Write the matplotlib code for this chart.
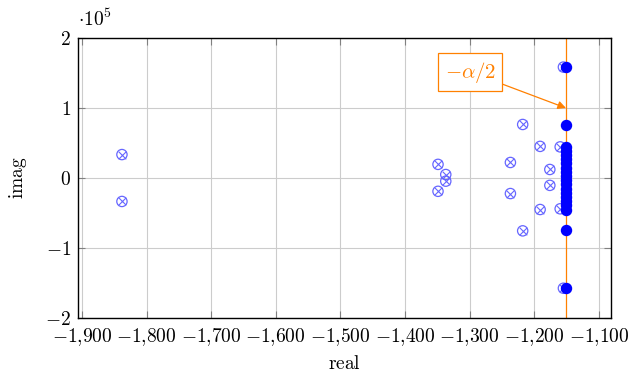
import numpy as np
import matplotlib
matplotlib.use('Agg')
import matplotlib.pyplot as plt
from matplotlib.ticker import FuncFormatter

plt.rcParams['mathtext.fontset'] = 'cm'
plt.rcParams['font.family'] = 'serif'
plt.rcParams['font.serif'] = ['DejaVu Serif']

# open poles (otimes markers), real part and imag part (units of 1e5)
open_re = [-1838, -1838, -1349, -1349, -1337, -1337, -1237, -1237,
           -1218, -1218, -1191, -1191, -1176, -1176, -1160, -1160,
           -1155, -1155]
open_im = [0.335, -0.335, 0.195, -0.19, 0.05, -0.045, 0.222, -0.222,
           0.765, -0.755, 0.452, -0.45, 0.122, -0.105, 0.445, -0.44,
           1.585, -1.575]

# filled poles on the -alpha/2 line
alpha_half = -1151
fill_im = [1.585, -1.575, 0.757, -0.745,
           0.45, 0.39, 0.33, 0.27, 0.21, 0.15, 0.09, 0.03,
           -0.03, -0.09, -0.15, -0.21, -0.27, -0.33, -0.39, -0.45]

orange = '#ff8000'
fs = 14

fig = plt.figure(figsize=(6.33, 3.73), dpi=100)
ax = fig.add_axes([0.1232, 0.1475, 0.8414, 0.7505])

ax.axvline(alpha_half, color=orange, lw=0.9, zorder=1)

ax.scatter(open_re, open_im, s=55, facecolors='none', edgecolors='#6666ff',
           linewidths=0.9, zorder=3)
ax.scatter(open_re, open_im, s=30, marker='x', color='#6666ff',
           linewidths=0.8, zorder=3)
ax.scatter([alpha_half] * len(fill_im), fill_im, s=52, color='#0000ff',
           zorder=4)

ax.annotate(r'$-\alpha/2$', xy=(alpha_half, 1.0), xytext=(-1299, 1.514),
            ha='center', va='center', color=orange, fontsize=15,
            bbox=dict(boxstyle='square,pad=0.3', fc='white', ec=orange, lw=0.9),
            arrowprops=dict(arrowstyle='-|>', color=orange, lw=0.9,
                            mutation_scale=12, shrinkA=0, shrinkB=0),
            zorder=5)

ax.set_xlim(-1906, -1082)
ax.set_ylim(-2, 2)
ax.set_xticks(np.arange(-1900, -1099, 100))
ax.set_yticks([-2, -1, 0, 1, 2])

def xfmt(v, pos):
    s = '{:,}'.format(int(abs(round(v))))
    return r'$-%s$' % s.replace(',', '{,}') if v < 0 else r'$%s$' % s

ax.xaxis.set_major_formatter(FuncFormatter(xfmt))
ax.yaxis.set_major_formatter(FuncFormatter(
    lambda v, p: r'$%d$' % v if v >= 0 else r'$-%d$' % abs(v)))

ax.grid(True, color='#cccccc', lw=0.8)
ax.set_axisbelow(True)
ax.tick_params(direction='in', top=True, right=True, length=5,
               color='#808080', labelsize=fs)
ax.tick_params(axis='x', pad=6)
ax.tick_params(axis='y', pad=5)
for sp in ax.spines.values():
    sp.set_linewidth(1.0)

ax.set_xlabel(r'$\mathrm{real}$', fontsize=fs, labelpad=5)
ax.set_ylabel(r'$\mathrm{imag}$', fontsize=fs, labelpad=12)
ax.text(0.0, 1.03, r'$\cdot 10^5$', transform=ax.transAxes, fontsize=fs,
        ha='left', va='bottom')

fig.savefig('out.png', dpi=100)
